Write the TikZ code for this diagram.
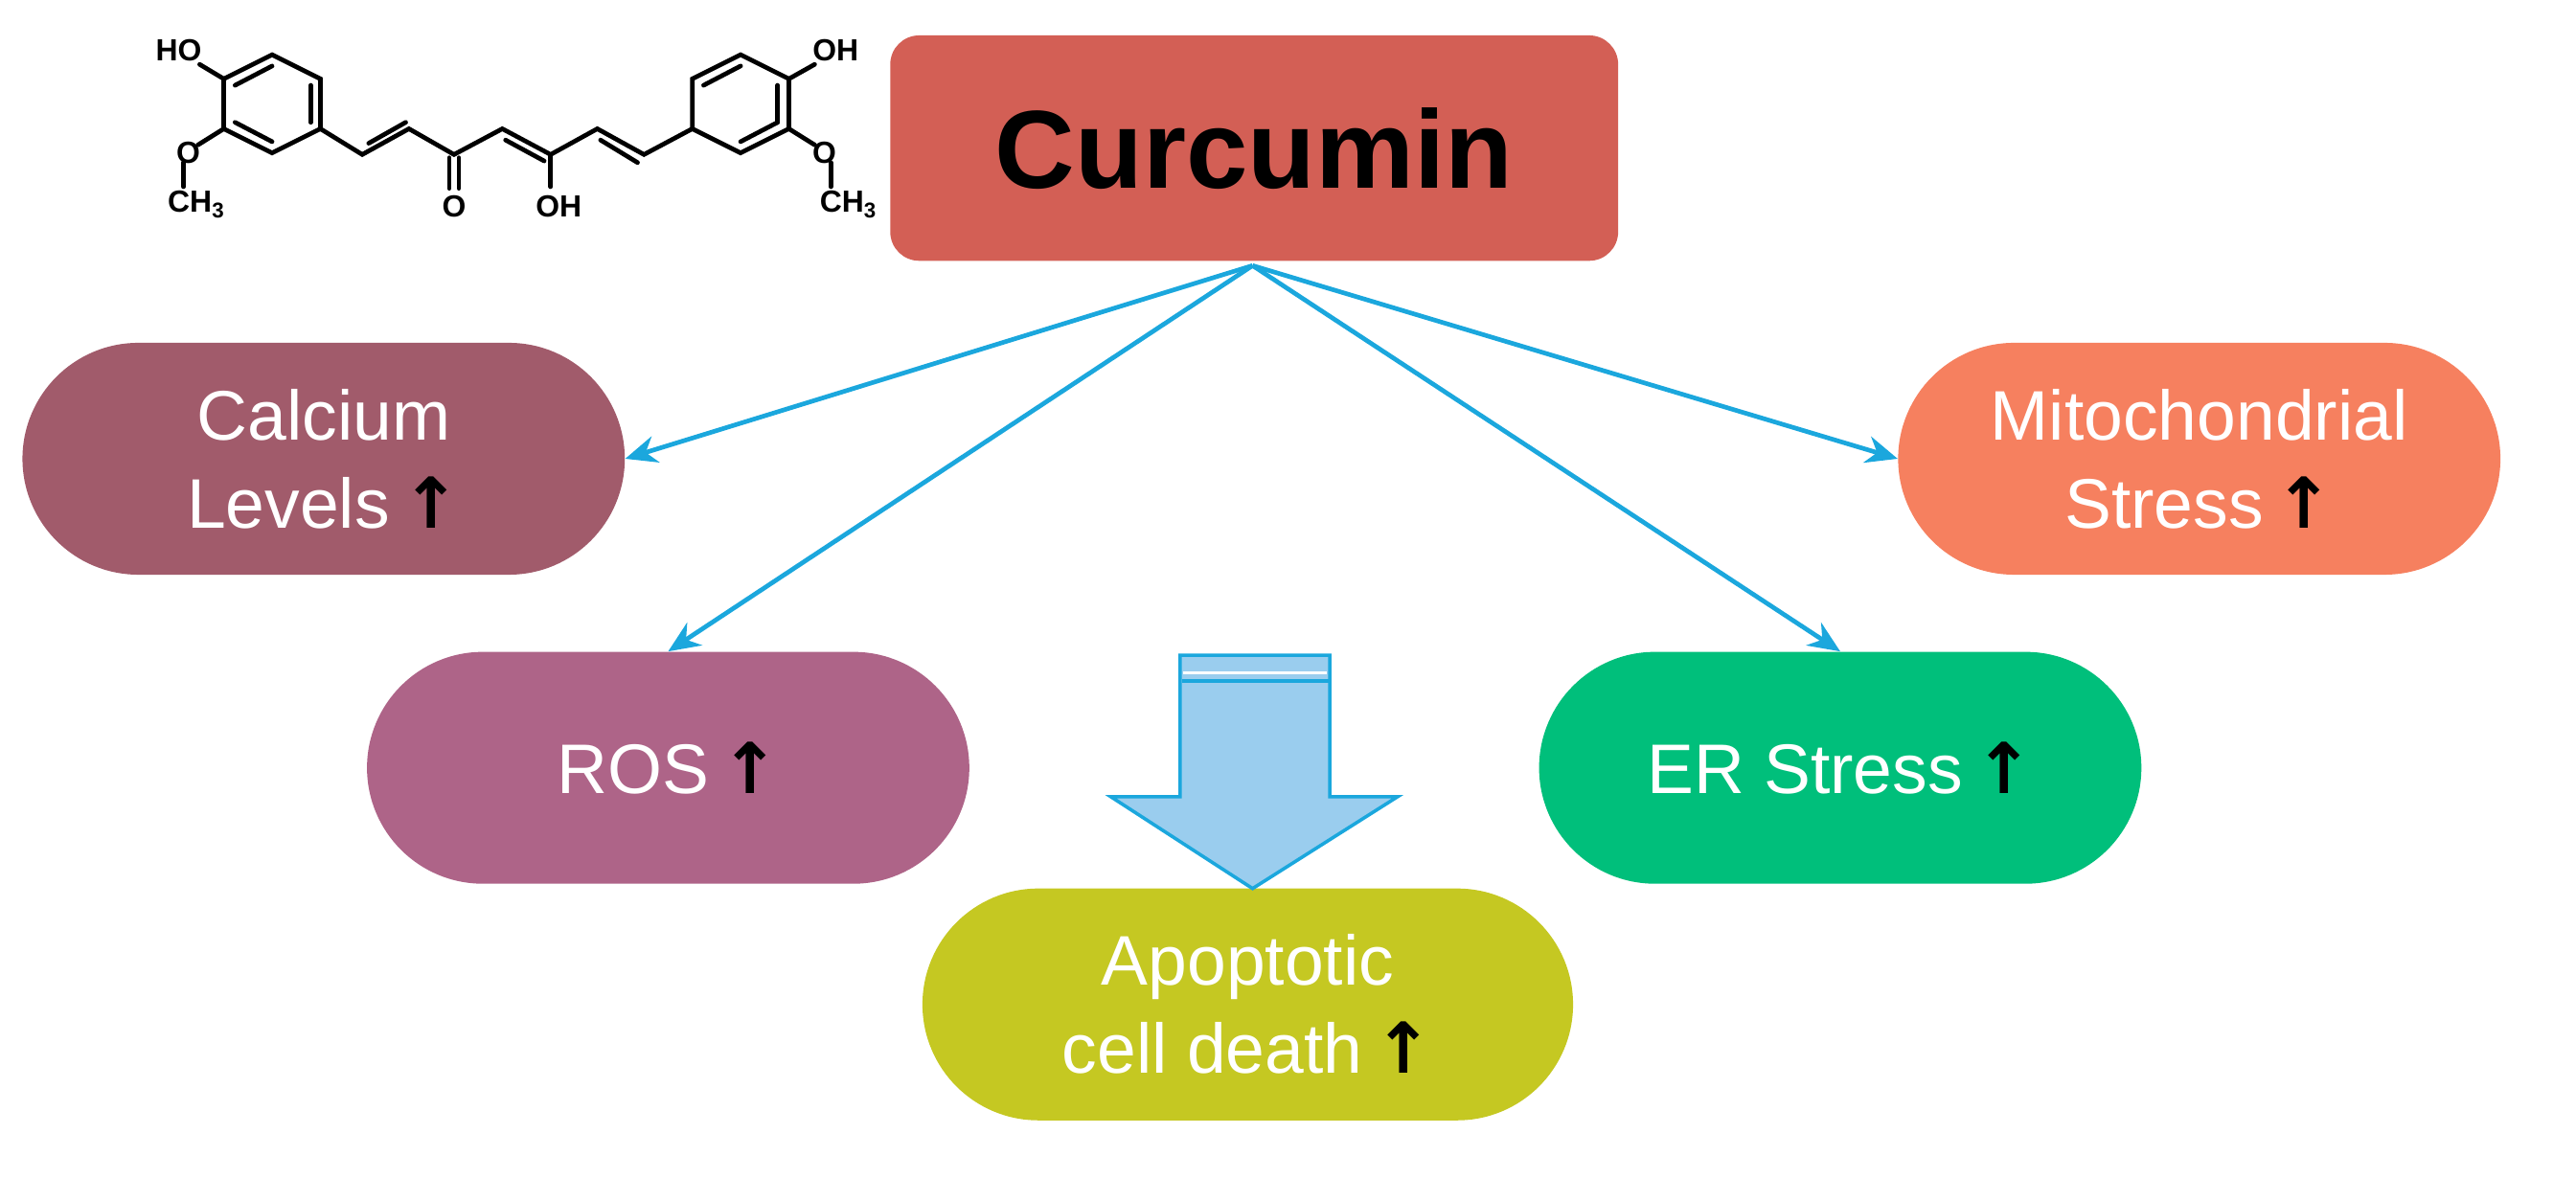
\documentclass[tikz,border=0pt]{standalone}
\usepackage{fontspec}
\setmainfont{Liberation Sans}
\newfontfamily\arr{DejaVu Sans}
\usetikzlibrary{arrows.meta}
\definecolor{cCur}{HTML}{D35F55}
\definecolor{cCal}{HTML}{A15B6B}
\definecolor{cMit}{HTML}{F6805F}
\definecolor{cRos}{HTML}{AE6488}
\definecolor{cEr}{HTML}{00BF7B}
\definecolor{cApo}{HTML}{C5C822}
\definecolor{cBlue}{HTML}{1BA7DD}
\definecolor{cFill}{HTML}{9ACDEE}
\newcommand{\up}{\,{\arr\bfseries\color{black}↑}}
\begin{document}
\begin{tikzpicture}[x=0.025cm,y=-0.025cm,
  pill/.style={rectangle,rounded corners=1.8cm,minimum width=9.35cm,minimum height=3.6cm,text=white,align=center,
    font=\fontsize{31}{39}\selectfont,inner sep=0pt},
  con/.style={cBlue,line width=2pt,-{Stealth[length=14pt,width=12pt]}},
  bond/.style={line width=2pt,line cap=round},
  atom/.style={font=\fontsize{13.5}{13.5}\selectfont\bfseries,inner sep=0pt}]
\useasboundingbox (0,0) rectangle (1600,732);
\node[rectangle,rounded corners=0.45cm,fill=cCur,minimum width=11.3cm,minimum height=3.5cm,
  font=\fontsize{49}{49}\selectfont\bfseries] (cur) at (779,92) {Curcumin};
\node[pill,fill=cCal] (cal) at (201,285) {Calcium\\Levels\up};
\node[pill,fill=cMit] (mit) at (1366,285) {Mitochondrial\\Stress\up};
\node[pill,fill=cRos] (ros) at (415,477) {ROS\up};
\node[pill,fill=cEr] (er) at (1143,477) {ER Stress\up};
\node[pill,fill=cApo,minimum width=10.1cm] (apo) at (775,624) {Apoptotic\\cell death\up};
\coordinate (src) at (778,165);
\draw[con] (src) -- (cal.east);
\draw[con] (src) -- (ros.north);
\draw[con] (src) -- (er.north);
\draw[con] (src) -- (mit.west);
% block arrow
\draw[cBlue,line width=1.5pt,fill=cFill,line join=miter]
  (733,407) -- (826,407) -- (826,495) -- (868,495) -- (778,552) -- (690,495) -- (733,495) -- cycle;
\draw[white,line width=1.5pt] (735,418) -- (824,418);
\draw[cBlue,line width=1.5pt] (734,423) -- (825,423);
% molecule
\draw[bond] (169,34) -- (199,49) -- (199,80) -- (169,95) -- (139,80) -- (139,49) -- cycle;
\draw[bond] (146,53) -- (169,41); \draw[bond] (193,53) -- (193,76); \draw[bond] (146,76) -- (169,88);
\draw[bond] (139,49) -- (124,40);
\node[atom] (ho1) at (111,31) {HO};
\draw[bond] (139,80) -- (123,90);
\node[atom] (o1) at (117,95) {O};
\draw[bond] (114,101) -- (114,116);
\node[atom] (me1) at (122,127) {CH\textsubscript{3}};
\draw[bond] (199,80) -- (225,96) -- (254,80) -- (282,96) -- (312,80) -- (342,96) -- (371,80) -- (400,96) -- (430,80);
\draw[bond] (229,89) -- (252,76);
\draw[bond] (314,87) -- (338,100);
\draw[bond] (373,87) -- (396,101);
\draw[bond] (279,98) -- (279,117);
\draw[bond] (285,98) -- (285,117);
\node[atom] (o2) at (282,128) {O};
\draw[bond] (342,96) -- (342,116);
\node[atom] (oh2) at (347,128) {OH};
\draw[bond] (460,34) -- (490,49) -- (490,80) -- (460,95) -- (430,80) -- (430,49) -- cycle;
\draw[bond] (437,53) -- (460,41); \draw[bond] (483,53) -- (483,76); \draw[bond] (460,88) -- (483,76);
\draw[bond] (490,49) -- (506,40);
\node[atom] (oh3) at (519,31) {OH};
\draw[bond] (490,80) -- (506,90);
\node[atom] (o3) at (512,95) {O};
\draw[bond] (516,101) -- (516,116);
\node[atom] (me3) at (527,127) {CH\textsubscript{3}};
\end{tikzpicture}
\end{document}
